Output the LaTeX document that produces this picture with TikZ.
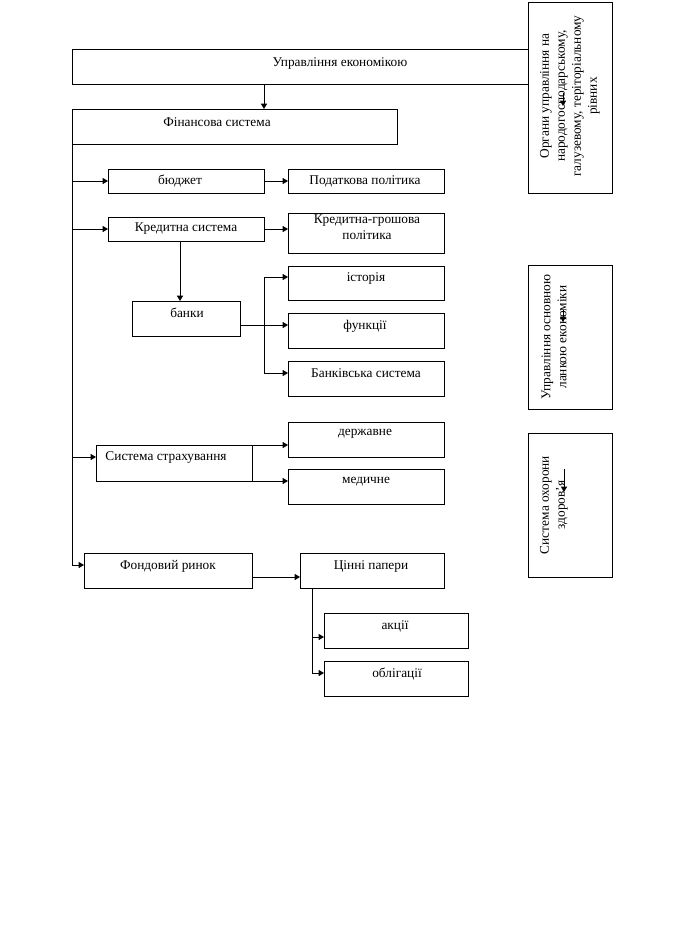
\documentclass[tikz,border=0pt]{standalone}
\usepackage{fontspec}
\setmainfont{Liberation Serif}
\usetikzlibrary{arrows.meta,calc}
\newcommand\pbox[5]{\node[box, minimum width={(#4-#2)*0.75pt}, minimum height={(#5-#3)*0.75pt}] (#1) at ({(#2+#4)/2},{(#3+#5)/2}) {};}
\begin{document}
\begin{tikzpicture}[x=0.75pt,y=-0.75pt, line width=0.75pt,
  box/.style={draw, rectangle, inner sep=0pt, outer sep=0pt},
  txt/.style={inner sep=0pt, font=\fontsize{10}{12}\selectfont},
  vtxt/.style={inner sep=0pt, rotate=90, align=center, font=\fontsize{10}{12}\selectfont},
  arr/.style={-{Triangle[length=4pt,width=4.5pt]}}]
\useasboundingbox[fill=white] (0,0) rectangle (685,926);
% boxes
\pbox{root}{72}{49}{528}{84}
\pbox{fin}{72}{109}{397}{144}
\pbox{budg}{108}{169}{264}{193}
\pbox{podat}{288}{169}{444}{193}
\pbox{kred}{108}{217}{264}{241}
\pbox{kgp}{288}{213}{444}{253}
\pbox{bank}{132}{301}{240}{336}
\pbox{ist}{288}{266}{444}{300}
\pbox{funk}{288}{313}{444}{348}
\pbox{bsys}{288}{361}{444}{396}
\pbox{strah}{96}{445}{252}{481}
\pbox{derzh}{288}{422}{444}{457}
\pbox{med}{288}{469}{444}{504}
\pbox{fond}{84}{553}{252}{588}
\pbox{cin}{300}{553}{444}{588}
\pbox{akc}{324}{613}{468}{648}
\pbox{obl}{324}{661}{468}{696}
\pbox{org}{528}{2}{612}{193}
\pbox{uos}{528}{265}{612}{409}
\pbox{soz}{528}{433}{612}{577}
% texts
\node[txt] (t1) at (340,63) {Управління економікою};
\node[txt] (t2) at (217,122) {Фінансова система};
\node[txt] (t3) at (180,181) {бюджет};
\node[txt] (t4) at (365,181) {Податкова політика};
\node[txt] (t5) at (186,229) {Кредитна система};
\node[txt, align=center] (t6) at (367,227) {Кредитна-грошова\\політика};
\node[txt] (t7) at (187,313) {банки};
\node[txt] (t8) at (366,278) {історія};
\node[txt] (t9) at (365,326) {функції};
\node[txt] (t10) at (366,373) {Банківська система};
\node[txt] (t11) at (166,458) {Система страхування};
\node[txt] (t12) at (365,434) {державне};
\node[txt] (t13) at (366,482) {медичне};
\node[txt] (t14) at (168,566) {Фондовий ринок};
\node[txt] (t15) at (371,566) {Цінні папери};
\node[txt] (t16) at (395,626) {акції};
\node[txt] (t17) at (397,674) {облігації};
\node[vtxt, font=\fontsize{10}{12}\selectfont] (t18) at (570,96) {Органи управління на\\народогосподарському,\\галузевому, теріторіальному\\рівних};
\node[vtxt] (t19) at (554,337) {Управління основною\\ланкою економіки};
\node[vtxt] (t20) at (554,505) {Система охорони\\здоров’я};
% connectors
\coordinate (a1) at (264,0);
\draw[arr] (root.south -| a1) -- (fin.north -| a1);
\coordinate (s1) at (72,181);
\coordinate (s2) at (72,229);
\coordinate (s3) at (72,457);
\coordinate (s4) at (72,565);
\draw[arr] (fin.south west) -- (s4) -- (fond.west |- s4);
\draw[arr] (s1) -- (budg.west |- s1);
\draw[arr] (s2) -- (kred.west |- s2);
\draw[arr] (s3) -- (strah.west |- s3);
\draw[arr] (budg.east) -- (podat.west);
\draw[arr] (kred.east) -- (kgp.west |- kred.east);
\coordinate (k1) at (180,0);
\draw[arr] (kred.south -| k1) -- (bank.north -| k1);
\coordinate (b1) at (264,277);
\coordinate (b2) at (264,325);
\coordinate (b3) at (264,373);
\draw (bank.east |- b2) -- (b2);
\draw (b1) -- (b3);
\draw[arr] (b1) -- (ist.west |- b1);
\draw[arr] (b2) -- (funk.west |- b2);
\draw[arr] (b3) -- (bsys.west |- b3);
\draw[arr] (strah.north east) -- (derzh.west |- strah.north east);
\draw[arr] (strah.south east) -- (med.west |- strah.south east);
\coordinate (f1) at (0,577);
\draw[arr] (fond.east |- f1) -- (cin.west |- f1);
\coordinate (c0) at (312,0);
\coordinate (c1) at (312,637);
\coordinate (c2) at (312,673);
\draw (cin.south -| c0) -- (c2);
\draw[arr] (c1) -- (akc.west |- c1);
\draw[arr] (c2) -- (obl.west |- c2);
% stray small arrows inside right boxes
\coordinate (m1a) at (563,93);
\coordinate (m1b) at (563,106);
\coordinate (m2a) at (563,310);
\coordinate (m2b) at (563,322);
\coordinate (m3a) at (564,469);
\coordinate (m3b) at (564,492);
\draw[arr] (m1a) -- (m1b);
\draw[arr] (m2a) -- (m2b);
\draw[arr] (m3a) -- (m3b);
\end{tikzpicture}
\end{document}
